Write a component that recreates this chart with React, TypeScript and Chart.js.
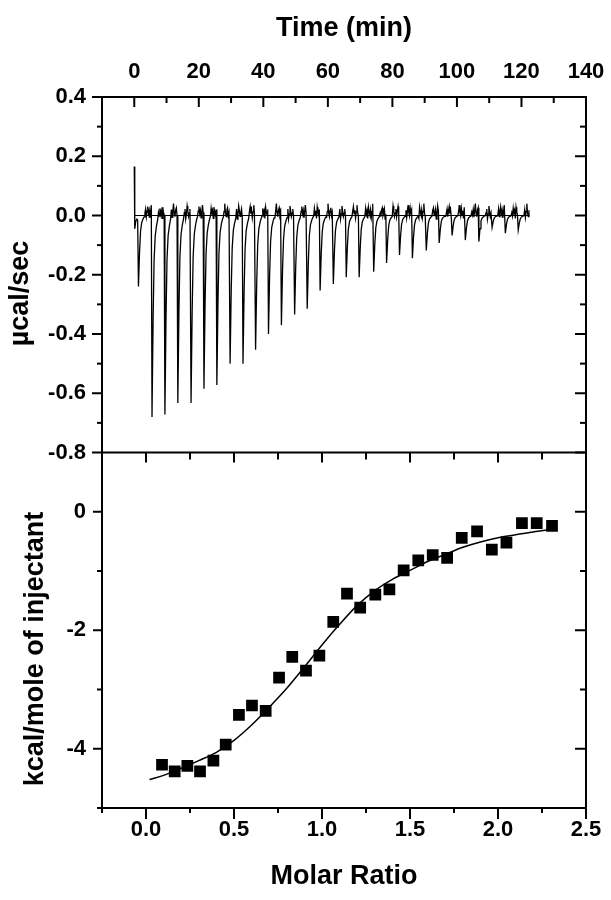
import React, { useEffect, useRef } from "react";
import { Chart, registerables } from "chart.js";

Chart.register(...registerables);

// ---- tick values ----
const timeTicks = [0, 20, 40, 60, 80, 100, 120, 140];
const timeMinor = [10, 30, 50, 70, 90, 110, 130];
const heatTicks = [-0.8, -0.6, -0.4, -0.2, 0, 0.2, 0.4];
const heatMinor = [-0.7, -0.5, -0.3, -0.1, 0.1, 0.3];
const ratioTicks = [0, 0.5, 1, 1.5, 2, 2.5];
const ratioMinor = [-0.25, 0.25, 0.75, 1.25, 1.75, 2.25];
const enthalpyTicks = [-4, -2, 0];
const enthalpyMinor = [-5, -3, -1];

// ---- raw thermogram (Time in min, µcal/sec) ----
const startTraceX = [0, 0.15, 0.45, 0.8, 1.05];
const startTraceY = [0.165, -0.045, -0.02, -0.012, -0.015];
const injectionTimes = [
  1.3, 5.5, 9.5, 13.5, 17.6, 21.6, 25.6, 29.7, 33.7, 37.6, 41.6, 45.6, 49.7, 53.6, 57.6,
  61.7, 65.7, 69.7, 74.2, 78.2, 82.2, 86.2, 90.5, 94.5, 98.5, 102.6, 106.8, 110.9, 115.0, 119.0,
];
const peakDepths = [
  -0.24, -0.68, -0.672, -0.633, -0.633, -0.585, -0.572, -0.5, -0.5, -0.453, -0.4, -0.37, -0.334,
  -0.315, -0.253, -0.231, -0.208, -0.208, -0.19, -0.16, -0.133, -0.144, -0.118, -0.093, -0.067,
  -0.083, -0.088, -0.04, -0.06, -0.049,
];
// recovery of each peak: time after the minimum and fraction of the depth
const peakShapeDt = [0, 0.35, 0.65, 1.0, 1.4, 1.75];
const peakShapeFrac = [1, 0.5, 0.22, 0.1, 0.05, 0.02];
const baselineNoise = [
  0.008, 0.022, -0.004, 0.015, 0.03, 0.006, 0.018, -0.008, 0.012, 0.035, 0.01, -0.002, 0.024,
  0.004, 0.016, -0.01, 0.028, 0.012, 0.002, 0.02, -0.006, 0.014, 0.04, 0.008, -0.004, 0.018,
  0.026, 0.0, 0.01, 0.022, -0.012, 0.005, 0.032, 0.015, -0.003,
];
const traceEnd = 122.5;
const baselineX = [0, 122.5];
const baselineY = [0, 0];

// ---- integrated heats ----
const molarRatio = [
  0.091, 0.163, 0.235, 0.307, 0.383, 0.453, 0.528, 0.602, 0.68, 0.756, 0.831, 0.909, 0.985,
  1.064, 1.142, 1.217, 1.303, 1.383, 1.464, 1.547, 1.629, 1.711, 1.794, 1.881, 1.965, 2.048,
  2.136, 2.22, 2.307,
];
const heatPerMole = [
  -4.27, -4.38, -4.29, -4.38, -4.2, -3.93, -3.43, -3.27, -3.36, -2.8, -2.45, -2.68, -2.43, -1.86,
  -1.38, -1.62, -1.4, -1.31, -0.99, -0.82, -0.73, -0.78, -0.44, -0.33, -0.64, -0.52, -0.19, -0.19,
  -0.24,
];
const fitRatio = [
  0.02, 0.1, 0.2, 0.3, 0.4, 0.5, 0.6, 0.7, 0.8, 0.9, 1.0, 1.1, 1.2, 1.3, 1.4, 1.5, 1.6, 1.7, 1.8,
  1.9, 2.0, 2.1, 2.2, 2.3,
];
const fitHeat = [
  -4.52, -4.45, -4.33, -4.2, -4.06, -3.86, -3.6, -3.3, -2.98, -2.62, -2.25, -1.9, -1.58, -1.33,
  -1.14, -0.99, -0.84, -0.72, -0.6, -0.51, -0.44, -0.39, -0.34, -0.3,
];

function buildTrace() {
  const pts: { x: number; y: number }[] = startTraceX.map((x, i) => ({ x, y: startTraceY[i] }));
  let ni = 0;
  for (let i = 0; i < injectionTimes.length; i++) {
    const t = injectionTimes[i];
    const d = peakDepths[i];
    for (let k = 0; k < peakShapeDt.length; k++) {
      pts.push({ x: t + peakShapeDt[k], y: d * peakShapeFrac[k] });
    }
    const end = i + 1 < injectionTimes.length ? injectionTimes[i + 1] - 0.2 : traceEnd;
    for (let x = t + 2.0; x <= end + 1e-9; x += 0.22) {
      pts.push({ x, y: baselineNoise[ni % baselineNoise.length] });
      ni++;
    }
  }
  return pts;
}

const FONT = "'Liberation Sans', Arial, Helvetica, sans-serif";

const framePlugin = {
  id: "itcFrame",
  afterDatasetsDraw(chart: any) {
    const { ctx, chartArea, scales } = chart;
    const { left, right, top, bottom } = chartArea;
    const xt = scales.xTime;
    const xr = scales.xRatio;
    const yt = scales.yTop;
    const yb = scales.yBot;
    const mid = yb.top;
    ctx.save();
    ctx.strokeStyle = "#000";
    ctx.lineWidth = 2;
    const seg = (x1: number, y1: number, x2: number, y2: number) => {
      ctx.beginPath();
      ctx.moveTo(x1, y1);
      ctx.lineTo(x2, y2);
      ctx.stroke();
    };
    ctx.strokeRect(left, top, right - left, bottom - top);
    seg(left - 1, mid, right + 1, mid);
    timeTicks.forEach((v) => { const x = xt.getPixelForValue(v); seg(x, top, x, top + 10); });
    timeMinor.forEach((v) => { const x = xt.getPixelForValue(v); seg(x, top, x, top + 6); });
    heatTicks.forEach((v) => {
      const y = yt.getPixelForValue(v);
      seg(left - 10, y, left, y);
      seg(right - 11, y, right, y);
    });
    heatMinor.forEach((v) => {
      const y = yt.getPixelForValue(v);
      seg(left - 5, y, left, y);
      seg(right - 6, y, right, y);
    });
    ratioTicks.forEach((v) => {
      const x = xr.getPixelForValue(v);
      seg(x, mid, x, mid + 10);
      seg(x, bottom, x, bottom + 11);
    });
    ratioMinor.forEach((v) => {
      const x = xr.getPixelForValue(v);
      seg(x, mid, x, mid + 7);
      seg(x, bottom, x, bottom + 5);
    });
    enthalpyTicks.forEach((v) => {
      const y = yb.getPixelForValue(v);
      seg(left - 9, y, left, y);
      seg(right - 11, y, right, y);
    });
    enthalpyMinor.forEach((v) => {
      const y = yb.getPixelForValue(v);
      seg(left - 5, y, left, y);
      seg(right - 6, y, right, y);
    });
    ctx.restore();
  },
};

export default function App() {
  const ref = useRef<HTMLCanvasElement | null>(null);
  useEffect(() => {
    if (!ref.current) return;
    const tickFont = { family: FONT, size: 22, weight: "bold" as const };
    const titleFont = { family: FONT, size: 27, weight: "bold" as const };
    const noGrid = { display: false, drawTicks: false };
    const noSidePad = (s: any) => { s.paddingLeft = 0; s.paddingRight = 0; };
    const chart = new Chart(ref.current, {
      type: "line",
      data: {
        datasets: [
          {
            type: "scatter",
            label: "heats",
            data: molarRatio.map((x, i) => ({ x, y: heatPerMole[i] })),
            xAxisID: "xRatio",
            yAxisID: "yBot",
            pointStyle: "rect",
            pointRadius: 8.3,
            backgroundColor: "#000",
            borderWidth: 0,
            showLine: false,
          } as any,
          {
            label: "fit",
            data: fitRatio.map((x, i) => ({ x, y: fitHeat[i] })),
            xAxisID: "xRatio",
            yAxisID: "yBot",
            borderColor: "#000",
            borderWidth: 1.5,
            pointRadius: 0,
            cubicInterpolationMode: "monotone",
          },
          {
            label: "baseline",
            data: baselineX.map((x, i) => ({ x, y: baselineY[i] })),
            xAxisID: "xTime",
            yAxisID: "yTop",
            borderColor: "#000",
            borderWidth: 1.2,
            pointRadius: 0,
          },
          {
            label: "raw",
            data: buildTrace(),
            xAxisID: "xTime",
            yAxisID: "yTop",
            borderColor: "#000",
            borderWidth: 1.3,
            pointRadius: 0,
            tension: 0,
          },
        ],
      },
      options: {
        responsive: false,
        animation: false,
        devicePixelRatio: 1,
        layout: { padding: { left: 0, right: 25, top: 0, bottom: 0 } },
        plugins: { legend: { display: false }, tooltip: { enabled: false } },
        scales: {
          xTime: {
            type: "linear",
            position: "top",
            min: -10,
            max: 140,
            grid: noGrid,
            border: { display: false },
            afterBuildTicks: (s: any) => { s.ticks = timeTicks.map((value) => ({ value })); },
            afterFit: (s: any) => { s.height = 97; noSidePad(s); },
            ticks: { font: tickFont, color: "#000", padding: 12, autoSkip: false, maxRotation: 0, callback: (v: any) => String(v) },
            title: { display: true, text: "Time (min)", font: titleFont, color: "#000", padding: { top: 12, bottom: 12 } },
          },
          xRatio: {
            type: "linear",
            position: "bottom",
            min: -0.25,
            max: 2.5,
            grid: noGrid,
            border: { display: false },
            afterBuildTicks: (s: any) => { s.ticks = ratioTicks.map((value) => ({ value })); },
            afterFit: (s: any) => { s.height = 92; noSidePad(s); },
            ticks: { font: tickFont, color: "#000", padding: 9, autoSkip: false, maxRotation: 0, callback: (v: any) => Number(v).toFixed(1) },
            title: { display: true, text: "Molar Ratio", font: titleFont, color: "#000", padding: { top: 7, bottom: 7 } },
          },
          yBot: {
            type: "linear",
            position: "left",
            stack: "panels",
            stackWeight: 1,
            min: -5,
            max: 1,
            grid: noGrid,
            border: { display: false },
            afterBuildTicks: (s: any) => { s.ticks = enthalpyTicks.map((value) => ({ value })); },
            afterFit: (s: any) => { s.width = 102; },
            ticks: { font: tickFont, color: "#000", padding: 16, autoSkip: false, callback: (v: any) => String(v) },
            title: { display: true, text: "kcal/mole of injectant     ", font: titleFont, color: "#000", padding: { top: 19, bottom: 19 } },
          },
          yTop: {
            type: "linear",
            position: "left",
            stack: "panels",
            stackWeight: 1,
            min: -0.8,
            max: 0.4,
            grid: noGrid,
            border: { display: false },
            afterBuildTicks: (s: any) => { s.ticks = heatTicks.map((value) => ({ value })); },
            afterFit: (s: any) => { s.width = 102; },
            ticks: { font: tickFont, color: "#000", padding: 16, autoSkip: false, callback: (v: any) => Number(v).toFixed(1) },
            title: { display: true, text: "µcal/sec     ", font: titleFont, color: "#000", padding: { top: 4, bottom: 4 } },
          },
        },
      } as any,
      plugins: [framePlugin],
    });
    return () => chart.destroy();
  }, []);
  return (
    <div style={{ position: "absolute", left: 0, top: 0, width: 611, height: 900, background: "#fff" }}>
      <canvas ref={ref} width={611} height={900} style={{ width: 611, height: 900, display: "block" }} />
    </div>
  );
}
